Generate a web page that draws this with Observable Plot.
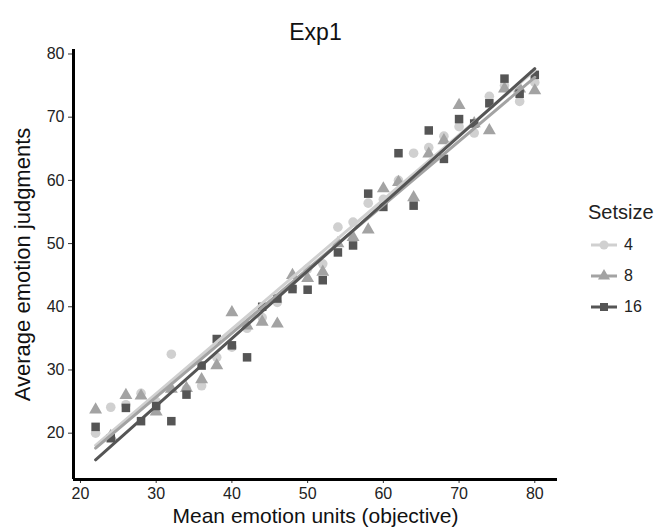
<!DOCTYPE html>
<html>
<head>
<meta charset="utf-8">
<script src="https://cdn.jsdelivr.net/npm/d3@7"></script>
<script src="https://cdn.jsdelivr.net/npm/@observablehq/plot@0.6"></script>
<style>
  html, body { margin: 0; padding: 0; background: #fff; }
  #wrap { position: relative; width: 659px; height: 532px; font-family: "Liberation Sans", Arial, sans-serif; }
  #legend { position: absolute; left: 588px; top: 200px; color: #222; }
  #legend .ttl { font-size: 20px; line-height: 24px; margin-bottom: 5px; }
  #legend .item { display: flex; align-items: center; height: 31px; font-size: 16px; }
  #legend svg { margin-right: 7px; margin-left: 3px; }
</style>
</head>
<body>
<div id="wrap"><div id="legend"></div></div>
<script>
const title = "Exp1";
const xLabel = "Mean emotion units (objective)";
const yLabel = "Average emotion judgments";
const legendTitle = "Setsize";
const setsizes = ["4", "8", "16"];
const colors = ["#d0d0d0", "#a3a3a3", "#555555"];
const symbols = ["circle", "triangle", "square"];
const xTicks = [20, 30, 40, 50, 60, 70, 80];
const yTicks = [20, 30, 40, 50, 60, 70, 80];
const xDomain = [19.08, 83.0];
const yDomain = [12.67, 80.71];

const xs = [22,24,26,28,30,32,34,36,38,40,42,44,46,48,50,52,54,56,58,60,62,64,66,68,70,72,74,76,78,80];
const set4  = [20.0,24.1,24.5,26.3,25.0,32.5,27.0,27.5,32.0,33.6,36.6,38.3,40.7,43.0,46.0,46.8,52.6,53.4,56.4,57.0,60.0,64.3,65.2,67.0,68.5,67.5,73.3,75.0,72.5,75.5];
const set8  = [23.7,19.5,26.0,25.9,23.4,27.0,27.1,28.5,30.7,39.1,37.0,37.6,37.3,45.0,44.5,45.5,50.0,51.0,52.2,58.7,59.7,57.3,64.2,66.3,71.9,69.0,67.9,74.5,74.5,74.2];
const set16 = [21.0,19.2,24.0,21.9,24.3,21.9,26.1,30.7,34.9,33.9,32.0,40.0,41.3,42.8,42.7,44.2,48.6,49.7,57.9,55.8,64.3,56.0,67.9,63.4,69.7,69.0,72.2,76.1,73.7,76.7];

const series = [set4, set8, set16];
const data = setsizes.flatMap((s, i) => series[i].map((v, j) => ({x: xs[j], y: v, s})));

const font = "Liberation Sans, Arial, sans-serif";

const chart = Plot.plot({
  width: 659,
  height: 532,
  marginLeft: 73,
  marginRight: 102,
  marginTop: 49,
  marginBottom: 53,
  style: {fontFamily: font, background: "white", color: "#222"},
  x: {domain: xDomain},
  y: {domain: yDomain},
  color: {domain: setsizes, range: colors},
  symbol: {domain: setsizes, range: symbols},
  marks: [
    Plot.axisX({ticks: xTicks, tickSize: 4, tickPadding: 4, fontSize: 16, label: null, stroke: "#333", fill: "#222"}),
    Plot.axisY({ticks: yTicks, tickSize: 5, tickPadding: 4, fontSize: 16, label: null, stroke: "#333", fill: "#222"}),
    Plot.dot(data, {x: "x", y: "y", fill: "s", symbol: "s", r: 4.8, stroke: "none"}),
    Plot.linearRegressionY(data, {x: "x", y: "y", stroke: "s", ci: 0, strokeWidth: 3}),
    Plot.ruleY([yDomain[0]], {stroke: "black", strokeWidth: 3}),
    Plot.ruleX([xDomain[0]], {stroke: "black", strokeWidth: 3}),
    Plot.text([title], {frameAnchor: "top", dy: -26, fontSize: 23, fill: "#111"}),
    Plot.text([xLabel], {frameAnchor: "bottom", dy: 43, fontSize: 21, fill: "#111"}),
    Plot.text([yLabel], {frameAnchor: "left", textAnchor: "middle", dx: -51, dy: 0, rotate: -90, fontSize: 22, fill: "#111"})
  ]
});

const wrap = document.getElementById("wrap");
wrap.insertBefore(chart, wrap.firstChild);

// legend
const legend = document.getElementById("legend");
const ttl = document.createElement("div");
ttl.className = "ttl";
ttl.textContent = legendTitle;
legend.appendChild(ttl);
setsizes.forEach((s, i) => {
  const item = document.createElement("div");
  item.className = "item";
  const svg = d3.create("svg").attr("width", 26).attr("height", 16);
  svg.append("line").attr("x1", 0).attr("x2", 26).attr("y1", 8).attr("y2", 8)
    .attr("stroke", colors[i]).attr("stroke-width", 3);
  const sym = {circle: d3.symbolCircle, triangle: d3.symbolTriangle, square: d3.symbolSquare}[symbols[i]];
  svg.append("path").attr("transform", "translate(13,8)")
    .attr("d", d3.symbol(sym, Math.PI * 4.5 * 4.5)()).attr("fill", colors[i]);
  item.appendChild(svg.node());
  const lab = document.createElement("span");
  lab.textContent = s;
  item.appendChild(lab);
  legend.appendChild(item);
});
</script>
</body>
</html>
